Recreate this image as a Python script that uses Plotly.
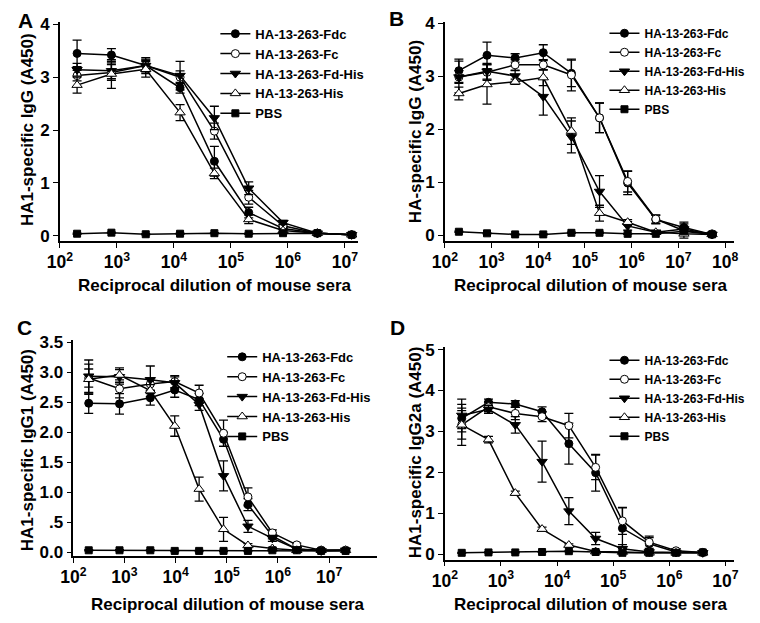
import plotly.graph_objects as go

# ---------------- data ----------------
SERIES = ["HA-13-263-Fdc", "HA-13-263-Fc", "HA-13-263-Fd-His", "HA-13-263-His", "PBS"]

# Panel A
A_X = [200, 800, 3200, 12800, 51200, 204800, 819200, 3276800, 13107200]
A_Fdc = [3.45, 3.42, 3.22, 2.80, 1.41, 0.44, 0.14, 0.05, 0.02]
A_Fc = [3.03, 3.09, 3.22, 3.00, 1.98, 0.73, 0.19, 0.05, 0.02]
A_FdHis = [3.14, 3.12, 3.22, 3.03, 2.23, 0.90, 0.25, 0.05, 0.02]
A_His = [2.85, 3.06, 3.15, 2.33, 1.18, 0.31, 0.10, 0.05, 0.02]
A_PBS = [0.04, 0.06, 0.03, 0.04, 0.05, 0.04, 0.05, 0.05, 0.02]
A_Fdc_err = [0.25, 0.12, 0.10, 0.10, 0.28, 0.10, 0.03, 0.02, 0.01]
A_Fc_err = [0.10, 0.15, 0.12, 0.12, 0.15, 0.13, 0.03, 0.02, 0.01]
A_FdHis_err = [0.12, 0.15, 0.15, 0.27, 0.22, 0.12, 0.04, 0.02, 0.01]
A_His_err = [0.15, 0.27, 0.15, 0.15, 0.10, 0.08, 0.03, 0.02, 0.01]
A_PBS_err = [0.01, 0.01, 0.01, 0.01, 0.01, 0.01, 0.01, 0.01, 0.01]

# Panel B
B_X = [200, 800, 3200, 12800, 51200, 204800, 819200, 3276800, 13107200, 52428800]
B_Fdc = [3.11, 3.40, 3.35, 3.45, 3.06, 2.22, 0.99, 0.30, 0.15, 0.02]
B_Fc = [2.99, 3.08, 3.22, 3.22, 3.03, 2.22, 1.02, 0.31, 0.09, 0.03]
B_FdHis = [2.99, 3.10, 3.01, 2.62, 1.86, 0.83, 0.18, 0.06, 0.12, 0.02]
B_His = [2.68, 2.85, 2.90, 2.98, 1.97, 0.42, 0.25, 0.06, 0.03, 0.02]
B_PBS = [0.07, 0.04, 0.02, 0.02, 0.05, 0.05, 0.03, 0.03, 0.08, 0.02]
B_Fdc_err = [0.22, 0.25, 0.08, 0.15, 0.25, 0.28, 0.22, 0.08, 0.10, 0.03]
B_Fc_err = [0.12, 0.15, 0.10, 0.10, 0.30, 0.28, 0.20, 0.08, 0.08, 0.03]
B_FdHis_err = [0.30, 0.15, 0.10, 0.35, 0.30, 0.30, 0.08, 0.03, 0.10, 0.02]
B_His_err = [0.12, 0.37, 0.05, 0.15, 0.25, 0.15, 0.05, 0.03, 0.08, 0.02]
B_PBS_err = [0.01, 0.01, 0.01, 0.01, 0.01, 0.01, 0.01, 0.01, 0.01, 0.01]

# Panel C
C_X = [200, 800, 3200, 9600, 28800, 86400, 259200, 777600, 2332800, 6998400, 20995200]
C_Fdc = [2.48, 2.47, 2.57, 2.70, 2.54, 1.88, 0.79, 0.27, 0.05, 0.03, 0.03]
C_Fc = [2.90, 2.72, 2.80, 2.84, 2.65, 1.98, 0.92, 0.32, 0.12, 0.03, 0.03]
C_FdHis = [2.93, 2.92, 2.87, 2.82, 2.46, 1.27, 0.43, 0.23, 0.05, 0.02, 0.03]
C_His = [2.88, 2.95, 2.69, 2.10, 1.05, 0.38, 0.11, 0.06, 0.03, 0.03, 0.03]
C_PBS = [0.03, 0.03, 0.03, 0.02, 0.02, 0.02, 0.02, 0.03, 0.03, 0.02, 0.02]
C_Fdc_err = [0.17, 0.17, 0.12, 0.12, 0.10, 0.12, 0.10, 0.05, 0.02, 0.01, 0.01]
C_Fc_err = [0.15, 0.15, 0.10, 0.10, 0.13, 0.22, 0.15, 0.05, 0.03, 0.01, 0.01]
C_FdHis_err = [0.27, 0.12, 0.23, 0.10, 0.10, 0.25, 0.10, 0.05, 0.02, 0.01, 0.01]
C_His_err = [0.25, 0.12, 0.10, 0.17, 0.20, 0.20, 0.03, 0.02, 0.01, 0.01, 0.01]
C_PBS_err = [0.01, 0.01, 0.01, 0.01, 0.01, 0.01, 0.01, 0.01, 0.01, 0.01, 0.01]

# Panel D
D_X = [200, 600, 1800, 5400, 16200, 48600, 145800, 437400, 1312200, 3936600]
D_Fdc = [3.32, 3.71, 3.67, 3.48, 2.70, 1.99, 0.63, 0.25, 0.05, 0.04]
D_Fc = [3.16, 3.60, 3.44, 3.36, 3.14, 2.12, 0.81, 0.29, 0.08, 0.04]
D_FdHis = [3.39, 3.54, 3.16, 2.26, 1.05, 0.38, 0.13, 0.05, 0.04, 0.03]
D_His = [3.16, 2.80, 1.49, 0.61, 0.22, 0.06, 0.05, 0.03, 0.03, 0.03]
D_PBS = [0.03, 0.04, 0.04, 0.05, 0.07, 0.05, 0.03, 0.03, 0.03, 0.04]
D_Fdc_err = [0.25, 0.08, 0.08, 0.12, 0.50, 0.45, 0.50, 0.15, 0.08, 0.02]
D_Fc_err = [0.50, 0.12, 0.15, 0.12, 0.30, 0.30, 0.33, 0.15, 0.05, 0.02]
D_FdHis_err = [0.40, 0.10, 0.20, 0.50, 0.33, 0.15, 0.10, 0.03, 0.02, 0.02]
D_His_err = [0.35, 0.08, 0.05, 0.05, 0.03, 0.03, 0.02, 0.02, 0.01, 0.01]
D_PBS_err = [0.01, 0.01, 0.01, 0.01, 0.01, 0.01, 0.01, 0.01, 0.01, 0.01]

PANEL_LETTERS = ["A", "B", "C", "D"]
Y_TITLES = ["HA1-specific IgG (A450)", "HA-specific IgG (A450)",
            "HA1-specific IgG1 (A450)", "HA1-specific IgG2a (A450)"]
X_TITLE = "Reciprocal dilution of mouse sera"
A_YTICKS = [0, 1, 2, 3, 4]
B_YTICKS = [0, 1, 2, 3, 4]
C_YTICKS = [0, 0.5, 1.0, 1.5, 2.0, 2.5, 3.0, 3.5]
C_YTICKTEXT = ["0.0", ".5", "1.0", "1.5", "2.0", "2.5", "3.0", "3.5"]
D_YTICKS = [0, 1, 2, 3, 4, 5]

# ---------------- layout geometry (pixels) ----------------
W, H = 760, 623
FONT = "Arial, 'Liberation Sans', sans-serif"

panels = [
    dict(x=A_X, ys=[A_Fdc, A_Fc, A_FdHis, A_His, A_PBS],
         es=[A_Fdc_err, A_Fc_err, A_FdHis_err, A_His_err, A_PBS_err],
         px=(48, 353), py=(15.3, 239), xr=[2, 7.23], yr=[-0.098, 4.044],
         yt=A_YTICKS, ytt=[str(v) for v in A_YTICKS],
         leg=(207, 12), legfs=13, xt=(207, 284), ytl=(15, 125), letter=(13, 14)),
    dict(x=B_X, ys=[B_Fdc, B_Fc, B_FdHis, B_His, B_PBS],
         es=[B_Fdc_err, B_Fc_err, B_FdHis_err, B_His_err, B_PBS_err],
         px=(441.7, 738), py=(15, 239), xr=[2, 8.2], yr=[-0.105, 4.035],
         yt=B_YTICKS, ytt=[str(v) for v in B_YTICKS],
         leg=(605, 12), legfs=12, xt=(591, 284), ytl=(412, 127), letter=(392, 12)),
    dict(x=C_X, ys=[C_Fdc, C_Fc, C_FdHis, C_His, C_PBS],
         es=[C_Fdc_err, C_Fc_err, C_FdHis_err, C_His_err, C_PBS_err],
         px=(61.7, 372), py=(340, 561), xr=[2, 7.93], yr=[-0.07, 3.535],
         yt=C_YTICKS, ytt=C_YTICKTEXT,
         leg=(214, 342), legfs=13, xt=(220, 610), ytl=(15, 453), letter=(12, 327)),
    dict(x=D_X, ys=[D_Fdc, D_Fc, D_FdHis, D_His, D_PBS],
         es=[D_Fdc_err, D_Fc_err, D_FdHis_err, D_His_err, D_PBS_err],
         px=(441.7, 738), py=(347, 564.3), xr=[2, 7.16], yr=[-0.134, 5.07],
         yt=D_YTICKS, ytt=[str(v) for v in D_YTICKS],
         leg=(605, 346), legfs=12, xt=(591, 610), ytl=(412, 455), letter=(393, 327)),
]

marker_styles = [
    dict(symbol="circle", size=8, color="black", line=dict(color="black", width=1)),
    dict(symbol="circle", size=8, color="white", line=dict(color="black", width=1)),
    dict(symbol="triangle-down", size=9, color="black", line=dict(color="black", width=1)),
    dict(symbol="triangle-up", size=9, color="white", line=dict(color="black", width=1)),
    dict(symbol="square", size=7, color="black", line=dict(color="black", width=1)),
]

fig = go.Figure()
annotations = []
layout = dict(
    width=W, height=H, margin=dict(l=0, r=0, t=0, b=0),
    paper_bgcolor="white", plot_bgcolor="white",
    font=dict(family=FONT, color="black", size=13, weight="bold"),
)

for i, p in enumerate(panels):
    sfx = "" if i == 0 else str(i + 1)
    xa, ya = "x" + sfx, "y" + sfx
    legname = "legend" + sfx
    for j, name in enumerate(SERIES):
        fig.add_trace(go.Scatter(
            x=p["x"], y=p["ys"][j], name=name, mode="lines+markers",
            xaxis=xa, yaxis=ya, legend=legname,
            line=dict(color="black", width=1.5),
            marker=marker_styles[j],
            error_y=dict(type="data", array=p["es"][j], visible=True,
                         color="black", thickness=1.3, width=4.5),
            showlegend=True,
        ))
    x0, x1 = p["px"]
    yt0, yb = p["py"]
    layout["xaxis" + sfx] = dict(
        type="log", range=p["xr"], domain=[x0 / W, x1 / W], anchor=ya,
        showgrid=False, zeroline=False, showline=True, linecolor="black", linewidth=1.5,
        ticks="outside", ticklen=5, tickwidth=1.2, tickcolor="black",
        dtick=1, exponentformat="power",
        tickfont=dict(family=FONT, size=14, color="black", weight="bold"),
    )
    layout["yaxis" + sfx] = dict(
        range=p["yr"], domain=[1 - yb / H, 1 - yt0 / H], anchor=xa,
        showgrid=False, zeroline=False, showline=True, linecolor="black", linewidth=1.5,
        ticks="outside", ticklen=5, tickwidth=1.2, tickcolor="black",
        tickmode="array", tickvals=p["yt"], ticktext=p["ytt"],
        tickfont=dict(family=FONT, size=17, color="black", weight="bold"),
    )
    lx, ly = p["leg"]
    layout[legname] = dict(
        x=lx / W, y=1 - ly / H, xanchor="left", yanchor="top",
        bgcolor="rgba(0,0,0,0)", borderwidth=0,
        font=dict(family=FONT, size=p["legfs"], color="black", weight="bold"),
        tracegroupgap=0, itemclick=False,
    )
    tx, ty = p["xt"]
    annotations.append(dict(
        text=X_TITLE, x=tx / W, y=1 - ty / H, xref="paper", yref="paper",
        xanchor="center", yanchor="middle", showarrow=False,
        font=dict(family=FONT, size=17, color="black", weight="bold")))
    yx, yy = p["ytl"]
    annotations.append(dict(
        text=Y_TITLES[i], x=yx / W, y=1 - yy / H, xref="paper", yref="paper",
        xanchor="center", yanchor="middle", showarrow=False, textangle=-90,
        font=dict(family=FONT, size=17, color="black", weight="bold")))
    lx2, ly2 = p["letter"]
    annotations.append(dict(
        text=PANEL_LETTERS[i], x=lx2 / W, y=1 - ly2 / H, xref="paper", yref="paper",
        xanchor="center", yanchor="middle", showarrow=False,
        font=dict(family=FONT, size=21, color="black", weight="bold")))

layout["annotations"] = annotations
fig.update_layout(**layout)
fig.write_html("out.html", config={"displayModeBar": False},
               post_script="document.body.style.margin='0';document.body.style.overflow='hidden';")
